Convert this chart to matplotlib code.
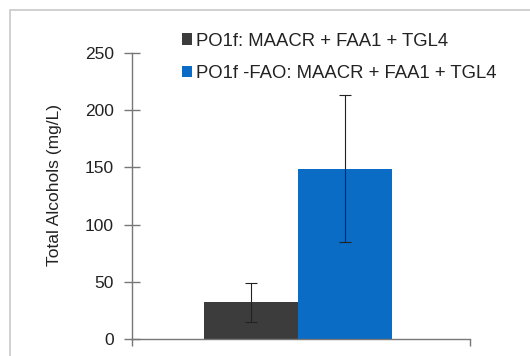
import matplotlib
matplotlib.use("Agg")
import matplotlib.pyplot as plt
from matplotlib.patches import Rectangle

series = ["PO1f: MAACR + FAA1 + TGL4", "PO1f -FAO: MAACR + FAA1 + TGL4"]
values = [32, 149]
errors = [17, 64]
colors = ["#3c3c3c", "#0a6cc4"]
yticks = [0, 50, 100, 150, 200, 250]
ylabel = "Total Alcohols (mg/L)"

plt.rcParams['font.family'] = ['Liberation Sans', 'DejaVu Sans']

W, H = 530, 356
fig = plt.figure(figsize=(W / 100, H / 100), dpi=100)
fig.patch.set_facecolor("white")

# outer frame (light gray)
fig.add_artist(Rectangle((9.5 / W, -0.1), 2, (H - 9.5) / H + 0.1, transform=fig.transFigure,
                         fill=False, edgecolor="#c8c8c8", linewidth=1.2))

left, right = 132 / W, 470 / W
bottom, top = 1 - 339 / H, 1 - 53 / H
ax = fig.add_axes([left, bottom, right - left, top - bottom])

bw = 0.278
offsets = [-bw / 2 - 0.008, bw / 2 - 0.008]
for i in range(2):
    ax.bar(offsets[i], values[i], width=bw, color=colors[i], label=series[i],
           yerr=errors[i], error_kw=dict(ecolor="#222222", elinewidth=0.8, capsize=4, capthick=0.8))

ax.set_xlim(-0.5, 0.5)
ax.set_ylim(0, 250)
ax.set_yticks(yticks)
ax.set_yticklabels([str(t) for t in yticks], fontsize=12.5, color="#222222")
ax.set_xticks([-0.5, 0.5])
ax.set_xticklabels(["", ""])
ax.tick_params(axis="x", direction="out", length=5, color="#777777", width=1)
ax.tick_params(axis="y", direction="inout", length=11, color="#777777", width=1, pad=7.5)
for s in ["top", "right"]:
    ax.spines[s].set_visible(False)
for s in ["left", "bottom"]:
    ax.spines[s].set_color("#777777")
    ax.spines[s].set_linewidth(1)
ax.spines["bottom"].set_bounds(-0.5, 0.5)

ax.set_ylabel(ylabel, fontsize=12.5, color="#222222")
ax.yaxis.set_label_coords((62 - 132) / (470 - 132), (339 - 185.5) / (339 - 53))

leg = fig.legend(loc="upper left", bbox_to_anchor=(182 / W, 1 - 32.5 / H), frameon=False,
                 fontsize=13.3, handlelength=0.56, handleheight=0.56, handletextpad=0.2,
                 labelspacing=0.84, borderaxespad=0, borderpad=0)
for t in leg.get_texts():
    t.set_color("#222222")

fig.savefig("out.png", dpi=100)
